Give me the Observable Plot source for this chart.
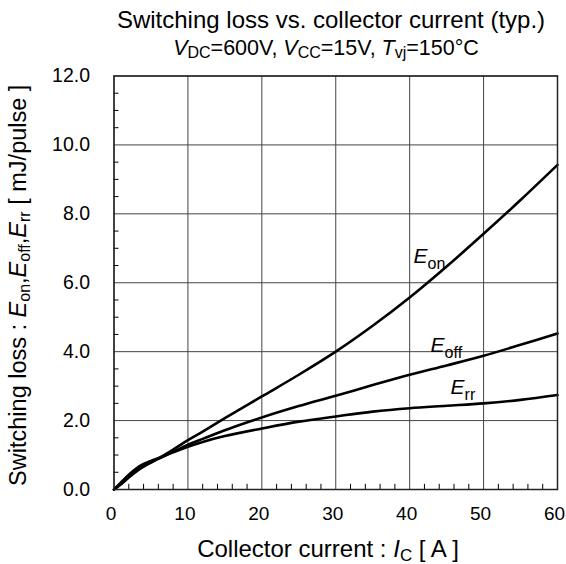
<!DOCTYPE html>
<html>
<head>
<meta charset="utf-8">
<script src="https://cdn.jsdelivr.net/npm/d3@7"></script>
<script src="https://cdn.jsdelivr.net/npm/@observablehq/plot@0.6"></script>
<style>
  html, body { margin: 0; padding: 0; background: #fff; }
  #chart svg { display: block; font-family: "Liberation Sans", Arial, sans-serif; }
</style>
</head>
<body>
<div id="chart"></div>
<script>
// Collector current (A)
const current = [0, 1, 2, 3, 4, 5, 6, 8, 10, 12, 15, 20, 25, 30, 35, 40, 45, 50, 55, 60];
// Switching losses (mJ/pulse)
const eOn  = [0, 0.16, 0.35, 0.52, 0.66, 0.78, 0.90, 1.16, 1.43, 1.68, 2.07, 2.70, 3.33, 4.00, 4.75, 5.57, 6.47, 7.42, 8.40, 9.42];
const eOff = [0, 0.18, 0.38, 0.55, 0.68, 0.79, 0.89, 1.09, 1.30, 1.47, 1.72, 2.09, 2.42, 2.72, 3.03, 3.33, 3.60, 3.88, 4.20, 4.53];
const eRr  = [0, 0.22, 0.43, 0.61, 0.74, 0.83, 0.91, 1.08, 1.24, 1.38, 1.55, 1.77, 1.97, 2.12, 2.26, 2.36, 2.43, 2.50, 2.60, 2.74];

const xMajor = [0, 10, 20, 30, 40, 50, 60];
const yMajor = [0, 2, 4, 6, 8, 10, 12];
const xMinor = [2, 4, 6, 8, 12, 14, 16, 18, 22, 24, 26, 28, 32, 34, 36, 38, 42, 44, 46, 48, 52, 54, 56, 58];
const yMinor = [0.5, 1, 1.5, 2.5, 3, 3.5, 4.5, 5, 5.5, 6.5, 7, 7.5, 8.5, 9, 9.5, 10.5, 11, 11.5];

// curve labels: [main, subscript, x, y]
const curveLabels = [
  ["E", "on", 40.6, 6.55],
  ["E", "off", 42.9, 3.97],
  ["E", "rr", 45.6, 2.75]
];

const titleText = "Switching loss vs. collector current (typ.)";

const series = [
  {name: "Eon", vals: eOn},
  {name: "Eoff", vals: eOff},
  {name: "Err", vals: eRr}
];
const rows = series.flatMap(s => current.map((c, i) => ({series: s.name, I: c, E: s.vals[i]})));

const font = "Liberation Sans, Arial, sans-serif";

const chart = Plot.plot({
  width: 566,
  height: 564,
  marginTop: 75.5,
  marginBottom: 75,
  marginLeft: 113.5,
  marginRight: 9,
  style: {fontFamily: font, fontSize: "19px", color: "#000", background: "#fff"},
  x: {domain: [0, 60]},
  y: {domain: [0, 12]},
  marks: [
    Plot.gridX(xMajor, {stroke: "#444", strokeOpacity: 1, strokeWidth: 1}),
    Plot.gridY(yMajor, {stroke: "#444", strokeOpacity: 1, strokeWidth: 1}),
    Plot.ruleX(xMinor, {y1: 0, y2: 0.15, stroke: "#000", strokeWidth: 1}),
    Plot.ruleY(yMinor, {x1: 0, x2: 0.68, stroke: "#000", strokeWidth: 1}),
    Plot.axisX(xMajor, {tickSize: 0, tickPadding: 17, fontSize: 19, dx: -3, label: null, tickFormat: d => String(d)}),
    Plot.axisY(yMajor, {tickSize: 0, tickPadding: 24, fontSize: 19.5, label: null, tickFormat: d => d.toFixed(1)}),
    Plot.line(rows, {x: "I", y: "E", z: "series", stroke: "#000", strokeWidth: 2.6, curve: "catmull-rom"}),
    Plot.frame({stroke: "#222", strokeWidth: 1.5})
  ]
});

document.getElementById("chart").appendChild(chart);

const svg = d3.select(chart);
const sx = chart.scale("x"), sy = chart.scale("y");

// Title
svg.append("text").attr("x", 331).attr("y", 28).attr("text-anchor", "middle")
  .attr("font-size", 24).attr("font-family", font).attr("fill", "#000").text(titleText);

// Subtitle with subscripts
const sub = svg.append("text").attr("x", 326).attr("y", 55).attr("text-anchor", "middle")
  .attr("font-size", 21.5).attr("font-family", font).attr("fill", "#000");
const subParts = [
  ["V", "i"], ["DC", "s"], ["=600V, ", "n"], ["V", "i"], ["CC", "s"], ["=15V, ", "n"], ["T", "i"], ["vj", "s"], ["=150°C", "n"]
];
subParts.forEach(([t, k], i) => {
  const ts = sub.append("tspan").text(t);
  if (k === "i") ts.attr("font-style", "italic");
  if (k === "s") ts.attr("font-size", 16).attr("dy", 3);
  else if (i > 0 && subParts[i - 1][1] === "s") ts.attr("dy", -3);
});

// X axis title
const xt = svg.append("text").attr("x", 328).attr("y", 557)
  .attr("text-anchor", "middle").attr("font-size", 24).attr("font-family", font).attr("fill", "#000");
xt.append("tspan").text("Collector current : ");
xt.append("tspan").text("I").attr("font-style", "italic");
xt.append("tspan").text("C").attr("font-size", 17).attr("dy", 4);
xt.append("tspan").text(" [ A ]").attr("dy", -4);

// Y axis title
const yc = (sy.apply(0) + sy.apply(12)) / 2 + 3;
const yt = svg.append("text").attr("transform", `translate(26,${yc}) rotate(-90)`)
  .attr("text-anchor", "middle").attr("font-size", 23.5).attr("font-family", font).attr("fill", "#000");
yt.append("tspan").text("Switching loss : ");
[["on", ","], ["off", ","], ["rr", " "]].forEach(([s, sep]) => {
  yt.append("tspan").text("E").attr("font-style", "italic");
  yt.append("tspan").text(s).attr("font-size", 16).attr("dy", 4);
  yt.append("tspan").text(sep).attr("dy", -4);
});
yt.append("tspan").text("[ mJ/pulse ]");

// Curve labels
curveLabels.forEach(([m, s, x, y]) => {
  const t = svg.append("text").attr("x", sx.apply(x)).attr("y", sy.apply(y))
    .attr("text-anchor", "start")
    .attr("font-size", 21).attr("font-family", font).attr("fill", "#000");
  t.append("tspan").text(m).attr("font-style", "italic");
  t.append("tspan").text(s).attr("font-size", 16).attr("dy", 6);
});
</script>
</body>
</html>
